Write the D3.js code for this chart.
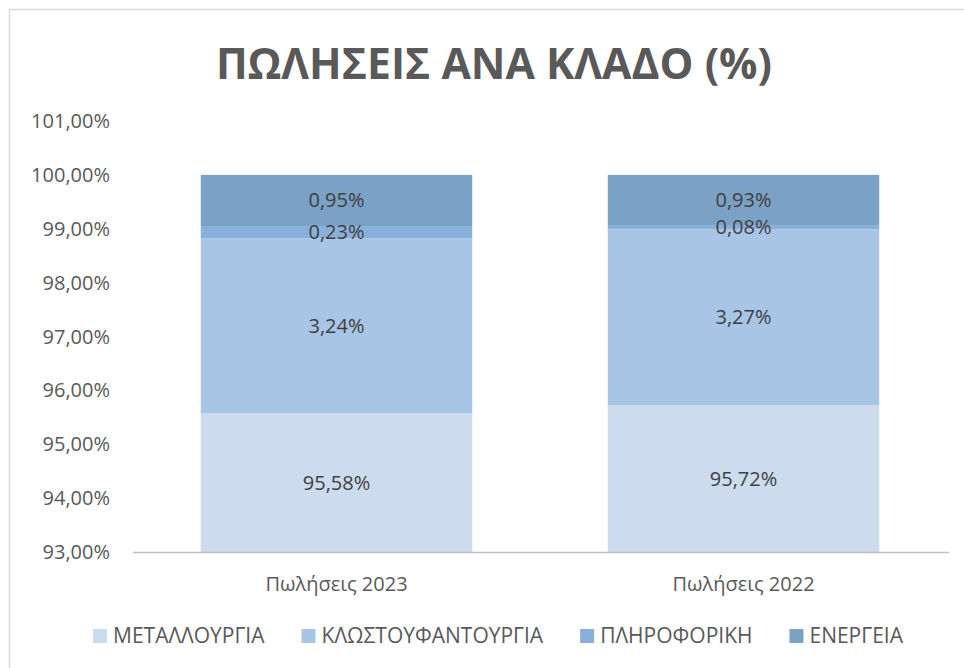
<!DOCTYPE html>
<html>
<head>
<meta charset="utf-8">
<script src="https://cdn.jsdelivr.net/npm/d3@7"></script>
<style>
  body { margin: 0; background: #fff; }
  svg { display: block; font-family: 'Open Sans', sans-serif; }
</style>
</head>
<body>
<div id="chart"></div>
<script>
const CATEGORIES = ['Πωλήσεις 2023', 'Πωλήσεις 2022']
const SERIES = ['ΜΕΤΑΛΛΟΥΡΓΙΑ', 'ΚΛΩΣΤΟΥΦΑΝΤΟΥΡΓΙΑ', 'ΠΛΗΡΟΦΟΡΙΚΗ', 'ΕΝΕΡΓΕΙΑ']
const COLORS = ['#ccdcee', '#a9c5e6', '#89b0d9', '#7ba1c4']
// values per series, one per category (percent)
const METAL = [95.58, 95.72]
const TEXTILE = [3.24, 3.27]
const IT = [0.23, 0.08]
const ENERGY = [0.95, 0.93]
const Y_TICKS = [93, 94, 95, 96, 97, 98, 99, 100, 101]

const W = 964, H = 668
const M = { top: 121, right: 15, bottom: 116, left: 133 }

let svg = d3.select('#chart').append('svg')
  .attr('width', W)
  .attr('height', H)

// chart frame
svg.append('rect')
  .attr('x', 9.5).attr('y', 9.5)
  .attr('width', W + 20).attr('height', H + 20)
  .attr('fill', 'none')
  .attr('stroke', '#d9d9d9')
  .attr('stroke-width', 1.5)

svg.append('text')
  .attr('x', 494)
  .attr('y', 79)
  .attr('text-anchor', 'middle')
  .attr('font-size', 43)
  .attr('font-weight', 'bold')
  .attr('fill', '#595959')
  .attr('textLength', 556)
  .attr('lengthAdjust', 'spacingAndGlyphs')
  .text('ΠΩΛΗΣΕΙΣ ΑΝΑ ΚΛΑΔΟ (%)')

let x = d3.scaleBand()
  .domain(CATEGORIES)
  .range([M.left, W - M.right - 2])
  .paddingInner(0.333)
  .paddingOuter(0.1665)

let y = d3.scaleLinear()
  .domain([93, 101])
  .range([H - M.bottom, M.top])

let fmt = (v) => v.toFixed(2).replace('.', ',') + '%'

// y tick labels
svg.append('g')
  .selectAll('text')
  .data(Y_TICKS)
  .enter().append('text')
    .attr('x', 110)
    .attr('y', (d) => y(d))
    .attr('dy', '0.35em')
    .attr('text-anchor', 'end')
    .attr('font-size', 20)
    .attr('fill', '#595959')
    .text(fmt)

// stacked bars
let rows = CATEGORIES.map((c, i) => ({
  cat: c,
  [SERIES[0]]: METAL[i],
  [SERIES[1]]: TEXTILE[i],
  [SERIES[2]]: IT[i],
  [SERIES[3]]: ENERGY[i]
}))
let stacked = d3.stack().keys(SERIES)(rows)
let segments = stacked.flatMap((layer, i) => layer.map((p) => ({ p: p, key: layer.key, i: i })))

let lo = y.domain()[0]

svg.append('g')
  .selectAll('rect')
  .data(segments)
  .enter().append('rect')
    .attr('fill', (d) => COLORS[d.i])
    .attr('x', (d) => x(d.p.data.cat))
    .attr('width', x.bandwidth())
    .attr('y', (d) => y(d.p[1]))
    .attr('height', (d) => y(Math.max(lo, d.p[0])) - y(d.p[1]))

// data labels, centred on the visible part of each segment, drawn above all bars
svg.append('g')
  .selectAll('text')
  .data(segments)
  .enter().append('text')
    .attr('x', (d) => x(d.p.data.cat) + x.bandwidth() / 2)
    .attr('y', (d) => (y(Math.max(lo, d.p[0])) + y(d.p[1])) / 2)
    .attr('dy', '0.35em')
    .attr('text-anchor', 'middle')
    .attr('font-size', 20)
    .attr('fill', '#404040')
    .text((d) => fmt(d.p.data[d.key]))

// baseline
svg.append('line')
  .attr('x1', M.left).attr('x2', W - M.right)
  .attr('y1', y(lo) + 0.5).attr('y2', y(lo) + 0.5)
  .attr('stroke', '#bfbfbf')
  .attr('stroke-width', 1.5)

// category labels
svg.append('g')
  .selectAll('text')
  .data(CATEGORIES)
  .enter().append('text')
    .attr('x', (d) => x(d) + x.bandwidth() / 2)
    .attr('y', y(lo) + 32)
    .attr('dy', '0.35em')
    .attr('text-anchor', 'middle')
    .attr('font-size', 20)
    .attr('fill', '#595959')
    .text((d) => d)

// legend
let items = svg.append('g')
  .selectAll('g')
  .data(SERIES)
  .enter().append('g')

items.append('rect')
  .attr('width', 14).attr('height', 14)
  .attr('y', -7)
  .attr('fill', (d, i) => COLORS[i])

items.append('text')
  .attr('x', 20)
  .attr('dy', '0.35em')
  .attr('font-size', 21)
  .attr('fill', '#595959')
  .text((d) => d)

let widths = []
items.each(function() {
  widths.push(20 + this.querySelector('text').getComputedTextLength())
})
let gap = 37
let total = d3.sum(widths) + gap * (widths.length - 1)
let start = 498 - total / 2
let off = 0
items.attr('transform', (d, i) => {
  let t = 'translate(' + (start + off) + ',' + 636 + ')'
  off += widths[i] + gap
  return t
})
</script>
</body>
</html>
